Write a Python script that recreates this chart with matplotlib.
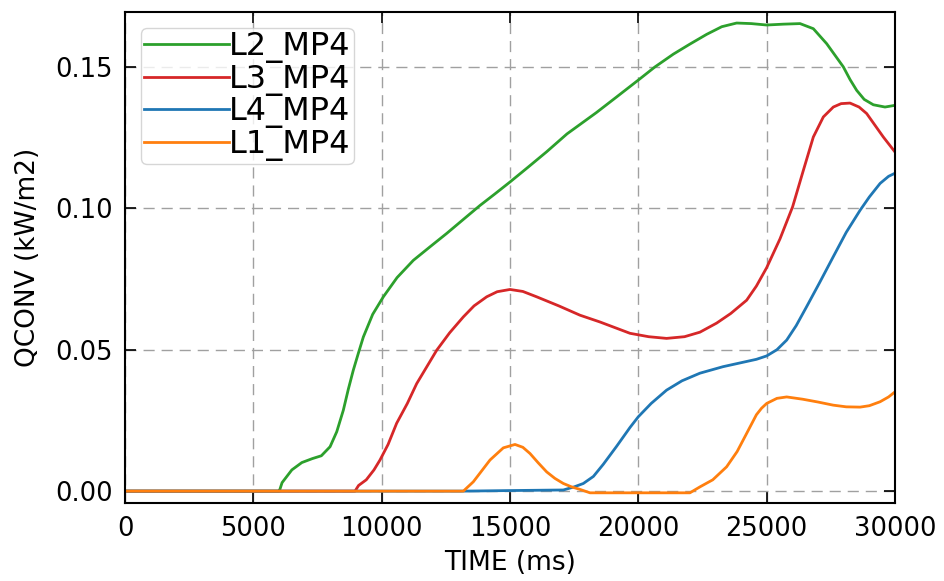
import matplotlib
matplotlib.use("Agg")
import matplotlib.pyplot as plt

# ---- data ----
l2_t = [0, 6000, 6030, 6120, 6500, 6890, 7300, 7650, 7990, 8250, 8506, 8700, 8896, 9100,
        9286, 9650, 10065, 10600, 11234, 11900, 12532, 13200, 13831, 14400, 15000, 15700,
        16430, 17220, 18360, 19130, 20065, 20650, 21364, 22000, 22662, 23250, 23830, 24400,
        25000, 25650, 26300, 26818, 27338, 27987, 28250, 28507, 28800, 29156, 29610, 30000]
l2_v = [0, 0, 0.0005, 0.003, 0.0075, 0.0101, 0.0115, 0.0125, 0.0157, 0.021, 0.0286, 0.036,
        0.0428, 0.049, 0.0545, 0.0625, 0.0687, 0.0755, 0.0816, 0.0865, 0.0911, 0.0962, 0.101,
        0.105, 0.1093, 0.1145, 0.1200, 0.1263, 0.1338, 0.1392, 0.1458, 0.150, 0.1545, 0.158,
        0.1615, 0.1642, 0.1655, 0.1653, 0.1648, 0.1651, 0.1653, 0.1635, 0.1582, 0.150,
        0.1455, 0.1417, 0.1385, 0.1366, 0.1358, 0.1364]

l3_t = [0, 8961, 9100, 9400, 9700, 9935, 10250, 10584, 11000, 11364, 12143, 12650, 13182,
        13600, 14091, 14500, 15000, 15500, 16039, 16900, 17727, 18506, 19675, 20400, 21100,
        21800, 22400, 23050, 23600, 24220, 24600, 25000, 25520, 26010, 26429, 26818, 27208,
        27597, 27900, 28247, 28600, 28896, 29545, 30000]
l3_v = [0, 0, 0.002, 0.004, 0.0075, 0.011, 0.0165, 0.024, 0.031, 0.038, 0.0498, 0.056,
        0.0616, 0.0655, 0.0687, 0.0705, 0.0713, 0.0706, 0.0687, 0.0655, 0.0622, 0.0598,
        0.0558, 0.0546, 0.054, 0.0546, 0.0562, 0.0594, 0.0628, 0.0675, 0.0725, 0.079, 0.0892,
        0.1005, 0.1134, 0.1252, 0.1323, 0.1358, 0.1370, 0.1372, 0.1358, 0.1335, 0.1252,
        0.1199]

l4_t = [0, 13200, 15000, 17078, 17500, 17857, 18250, 18636, 19150, 19675, 20000, 20500,
        21100, 21700, 22400, 23300, 24200, 24600, 25000, 25400, 25780, 26150, 26550, 27050,
        27590, 28100, 28640, 29000, 29420, 29750, 30000]
l4_v = [0, 0, 0.0002, 0.0004, 0.0015, 0.0027, 0.0052, 0.0095, 0.0158, 0.0225, 0.0263, 0.031,
        0.0357, 0.039, 0.0417, 0.044, 0.0458, 0.0466, 0.0478, 0.050, 0.0534, 0.0585, 0.0651,
        0.0735, 0.0828, 0.0915, 0.0993, 0.104, 0.1088, 0.1113, 0.1124]

l1_t = [0, 13182, 13571, 13900, 14221, 14740, 15195, 15500, 15779, 16100, 16429, 16750,
        17078, 17400, 17727, 18117, 22010, 22400, 22900, 23440, 23850, 24220, 24600, 24800,
        25000, 25400, 25780, 26400, 27000, 27590, 28100, 28640, 29000, 29420, 29750, 30000]
l1_v = [0, 0, 0.0033, 0.0072, 0.011, 0.0153, 0.0165, 0.0155, 0.0133, 0.0100, 0.0068, 0.0045,
        0.0027, 0.0015, 0.0006, -0.0006, -0.0006, 0.0015, 0.004, 0.0086, 0.014, 0.0204, 0.027,
        0.0293, 0.0310, 0.0328, 0.0333, 0.0325, 0.0315, 0.0304, 0.0298, 0.0297, 0.0302,
        0.0316, 0.0333, 0.0351]

series = [("L2_MP4", l2_t, l2_v, "#2ca02c"),
          ("L3_MP4", l3_t, l3_v, "#d62728"),
          ("L4_MP4", l4_t, l4_v, "#1f77b4"),
          ("L1_MP4", l1_t, l1_v, "#ff7f0e")]

x_ticks = [0, 5000, 10000, 15000, 20000, 25000, 30000]
y_ticks = [0.00, 0.05, 0.10, 0.15]

plt.rcParams['font.family'] = ['DejaVu Sans']

fig = plt.figure(figsize=(9.44, 5.81), dpi=100)
ax = fig.add_axes([125/944, 78/581, 770/944, 491/581])

for name, t, v, c in series:
    ax.plot(t, v, color=c, lw=2.0, label=name, solid_joinstyle='round')

ax.set_xlim(0, 30000)
ax.set_ylim(-0.0042, 0.1694)
ax.set_xticks(x_ticks)
ax.set_yticks(y_ticks)
ax.set_yticklabels([f"{v:.2f}" for v in y_ticks])
ax.tick_params(axis='both', direction='in', length=8, width=1.2, labelsize=18.5,
               top=True, right=True, pad=9)
for s in ax.spines.values():
    s.set_linewidth(1.5)
ax.grid(True, color='#a0a0a0', linestyle=(0, (8, 5)), linewidth=1.0)
ax.set_axisbelow(True)

ax.set_xlabel("TIME (ms)", fontsize=19, labelpad=6)
ax.set_ylabel("QCONV (kW/m2)", fontsize=19, labelpad=10)

leg = ax.legend(loc='upper left', fontsize=23, handlelength=2.65, handletextpad=0.0,
                labelspacing=0.02, borderpad=0.1, borderaxespad=0.5, frameon=True,
                fancybox=True, framealpha=0.8)
leg.get_frame().set_edgecolor('#cccccc')

fig.savefig("out.png", dpi=100)
